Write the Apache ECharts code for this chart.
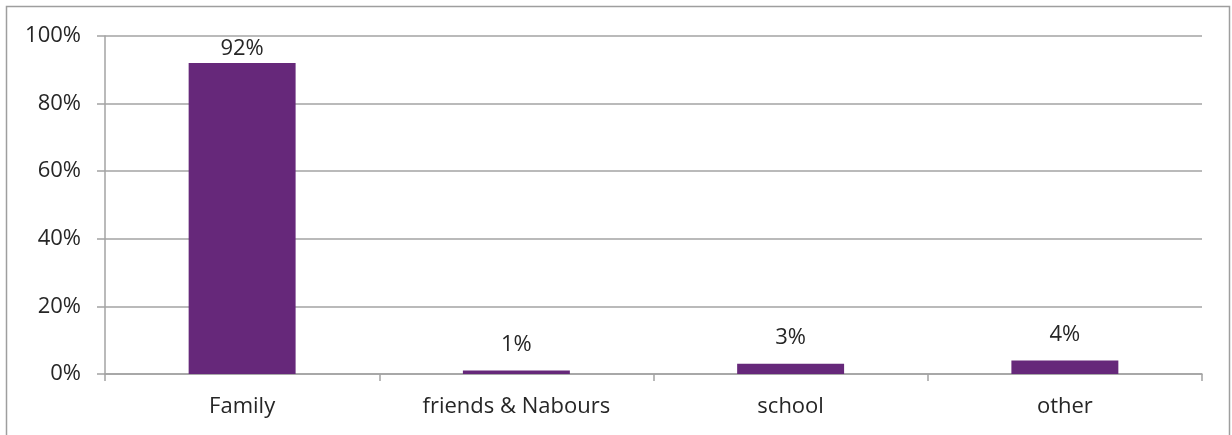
<!DOCTYPE html>
<html>
<head>
<meta charset="utf-8">
<script src="https://cdn.jsdelivr.net/npm/echarts@6/dist/echarts.min.js"></script>
<style>
  html, body { margin: 0; padding: 0; background: #fff; }
  #chart { width: 1232px; height: 435px; }
</style>
</head>
<body>
<div id="chart"></div>
<script>
// Where the support comes from, as shares of all answers
const categories = ['Family', 'friends & Nabours', 'school', 'other'];
const shares = [0.92, 0.01, 0.03, 0.04];
const yTicks = { min: 0, max: 1, interval: 0.2 };

const FONT = '"Open Sans", "Noto Sans", sans-serif';
const TEXT = '#262626';
const LINE = '#a3a3a3';
const BAR = '#66287a';

const chart = echarts.init(document.getElementById('chart'), null, { renderer: 'canvas' });

const pct = v => Math.round(v * 100) + '%';

chart.setOption({
  animation: false,
  backgroundColor: '#ffffff',
  graphic: [{
    type: 'rect',
    shape: { x: 6.5, y: 6.5, width: 1223, height: 450 },
    style: { fill: 'none', stroke: '#9e9e9e', lineWidth: 1.5 },
    silent: true
  }],
  grid: { left: 105, right: 30, top: 36, bottom: 61, containLabel: false },
  xAxis: {
    type: 'category',
    data: categories,
    boundaryGap: true,
    axisLine: { show: true, lineStyle: { color: LINE, width: 1.5 } },
    axisTick: { show: true, length: 7, alignWithLabel: false, lineStyle: { color: LINE, width: 1.5 } },
    axisLabel: { color: TEXT, fontFamily: FONT, fontSize: 22, lineHeight: 22, margin: 22 }
  },
  yAxis: {
    type: 'value',
    min: yTicks.min,
    max: yTicks.max,
    interval: yTicks.interval,
    axisLine: { show: true, lineStyle: { color: LINE, width: 1.5 } },
    axisTick: { show: true, length: 8, lineStyle: { color: LINE, width: 1.5 } },
    splitLine: { show: true, lineStyle: { color: LINE, width: 1.5 } },
    axisLabel: { color: TEXT, fontFamily: FONT, fontSize: 22, margin: 24, formatter: pct }
  },
  series: [{
    type: 'bar',
    barWidth: '39%',
    itemStyle: { color: BAR },
    data: shares.map((v, i) => ({
      value: v,
      label: { distance: i === 0 ? 3 : 15 }
    })),
    label: {
      show: true,
      position: 'top',
      color: TEXT,
      fontFamily: FONT,
      fontSize: 22,
      formatter: p => pct(p.value)
    }
  }]
});
</script>
</body>
</html>
